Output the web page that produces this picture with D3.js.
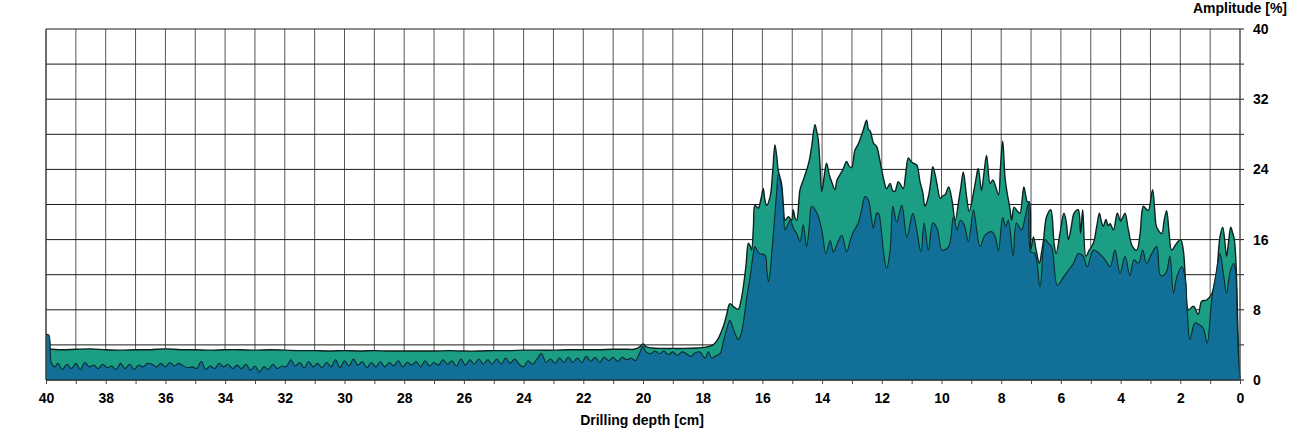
<!DOCTYPE html>
<html>
<head>
<meta charset="utf-8">
<script src="https://cdn.jsdelivr.net/npm/d3@7"></script>
<style>
  html, body { margin: 0; padding: 0; background: #fff; }
  svg { display: block; }
  text { font-family: "Liberation Sans", Arial, sans-serif; font-weight: bold; fill: #000; }
</style>
</head>
<body>
<svg id="chart" width="1292" height="438"></svg>
<script>
// ---- data (drilling depth in cm, amplitude in %) ----
const greenDepth = [40,39.8,39.5,39,38.5,38,37.5,37,36.5,36,35.5,35,34.5,34,33.5,33,32.5,32,31.5,31,30.5,30,29.5,29,28.5,28,27.5,27,26.5,26,25.5,25,24.5,24,23.5,23,22.5,22,21.5,21,20.5,20.3,20.1,20.0,19.9,19.7,19.4,19,18.6,18.2,17.9,17.65,17.5,17.31,17.2,17.09,16.95,16.81,16.72,16.64,16.55,16.47,16.4,16.36,16.3,16.25,16.14,16.05,15.97,15.92,15.86,15.74,15.66,15.58,15.52,15.47,15.36,15.3,15.24,15.13,15.02,14.97,14.9,14.85,14.74,14.63,14.52,14.43,14.35,14.24,14.18,14.13,14.07,14.01,13.93,13.85,13.76,13.68,13.57,13.5,13.4,13.3,13.18,13.1,13.01,12.9,12.8,12.73,12.62,12.51,12.45,12.38,12.28,12.17,12.08,12.0,11.92,11.84,11.72,11.64,11.56,11.45,11.36,11.28,11.2,11.11,11.02,10.94,10.83,10.72,10.63,10.55,10.44,10.36,10.29,10.2,10.15,10.04,9.95,9.88,9.76,9.65,9.54,9.42,9.35,9.27,9.16,9.07,8.93,8.85,8.77,8.66,8.58,8.49,8.37,8.28,8.2,8.09,8.02,7.95,7.87,7.8,7.71,7.65,7.57,7.45,7.37,7.3,7.24,7.12,7.06,7.01,6.92,6.83,6.72,6.65,6.58,6.48,6.34,6.23,6.16,6.03,5.9,5.82,5.75,5.65,5.56,5.42,5.34,5.27,5.16,5.05,4.91,4.8,4.71,4.64,4.58,4.49,4.42,4.35,4.24,4.11,4.0,3.92,3.85,3.74,3.6,3.46,3.35,3.24,3.15,3.07,2.93,2.86,2.79,2.62,2.55,2.46,2.38,2.29,2.12,1.99,1.9,1.82,1.73,1.56,1.4,1.28,1.12,0.95,0.85,0.78,0.67,0.58,0.5,0.45,0.38,0.31,0.25,0.19,0.13,0.08,0.03,0];
const greenValue = [3.5,3.5,3.45,3.5,3.55,3.45,3.4,3.45,3.45,3.55,3.45,3.45,3.4,3.45,3.45,3.4,3.45,3.4,3.35,3.35,3.3,3.35,3.3,3.35,3.3,3.3,3.3,3.3,3.35,3.3,3.3,3.35,3.35,3.4,3.4,3.4,3.45,3.45,3.45,3.5,3.5,3.5,3.8,4.1,3.8,3.65,3.6,3.6,3.6,3.65,3.75,4.0,4.6,6.1,7.4,8.7,8.3,8.05,9.0,10.6,13.0,15.6,15.2,14.8,17.5,19.9,19.6,20.6,21.8,20.6,19.9,20.9,23.5,26.8,25.5,23.9,22.4,20.0,18.2,18.6,18.2,19.4,18.4,18.2,21.7,22.8,23.9,25.0,26.6,29.1,28.3,27.4,24.5,21.5,23.2,24.7,23.4,22.6,21.7,22.8,23.4,24.0,24.9,24.4,24.2,26.2,26.8,27.4,28.5,29.6,28.6,28.3,27.0,26.6,25.3,23.9,22.6,21.8,22.4,21.6,21.5,22.6,22.2,21.8,23.5,25.3,24.9,24.7,24.5,22.6,21.4,19.8,20.9,22.6,24.3,23.2,22.3,20.7,21.0,21.1,22.0,20.5,18.2,20.5,22.0,23.7,20.9,19.2,21.3,22.8,24.1,21.6,23.5,25.6,22.4,22.8,22.2,21.1,24.5,27.2,23.0,21.3,19.6,18.2,19.7,19.2,19.0,20.5,22.0,20.3,20.3,14.8,16.3,14.8,13.3,14.5,16.0,18.6,19.4,15.6,14.4,16.7,19.0,18.0,16.0,17.5,19.0,19.4,16.7,19.4,14.1,14.8,15.6,17.5,19.0,18.0,17.5,18.3,17.6,17.8,17.1,19.0,18.1,18.6,19.0,17.1,15.2,14.8,16.6,19.8,19.5,19.3,21.7,19.5,17.4,16.7,18.0,19.3,17.0,14.8,15.6,16.0,14.8,11.0,8.0,8.4,7.5,9.0,9.1,9.8,11.0,12.2,16.3,17.4,15.5,14.1,15.8,17.4,16.8,16.0,13.0,7.0,1.5,0];

const blueDepth = [40,39.9,39.82,39.7,39.6,39.45,39.3,39.15,39.0,38.85,38.7,38.55,38.4,38.25,38.1,37.95,37.8,37.65,37.5,37.35,37.2,37.05,36.9,36.75,36.6,36.45,36.3,36.15,36.0,35.85,35.7,35.55,35.4,35.25,35.1,34.95,34.8,34.65,34.5,34.35,34.2,34.05,33.9,33.75,33.6,33.45,33.3,33.15,33.0,32.85,32.7,32.55,32.4,32.25,32.1,31.95,31.8,31.65,31.5,31.35,31.2,31.05,30.9,30.75,30.6,30.45,30.3,30.15,30.0,29.85,29.7,29.55,29.4,29.25,29.1,28.95,28.8,28.65,28.5,28.35,28.2,28.05,27.9,27.75,27.6,27.45,27.3,27.15,27.0,26.85,26.7,26.55,26.4,26.25,26.1,25.95,25.8,25.65,25.5,25.35,25.2,25.05,24.9,24.75,24.6,24.45,24.3,24.15,24.0,23.85,23.7,23.55,23.4,23.25,23.1,22.95,22.8,22.65,22.5,22.35,22.2,22.05,21.9,21.75,21.6,21.45,21.3,21.15,21.0,20.85,20.7,20.55,20.4,20.25,20.15,20.0,19.9,19.75,19.6,19.45,19.3,19.15,19.0,18.85,18.7,18.55,18.4,18.25,18.09,17.92,17.81,17.7,17.55,17.42,17.3,17.18,17.09,16.95,16.81,16.72,16.64,16.52,16.41,16.33,16.25,16.15,16.08,15.91,15.85,15.8,15.74,15.69,15.63,15.58,15.52,15.47,15.36,15.3,15.24,15.16,15.07,14.95,14.85,14.74,14.63,14.52,14.43,14.35,14.18,14.01,13.87,13.73,13.62,13.5,13.34,13.18,13.05,12.95,12.79,12.67,12.56,12.45,12.35,12.28,12.17,12.11,12.0,11.95,11.84,11.72,11.63,11.5,11.33,11.16,10.96,10.83,10.69,10.58,10.44,10.29,10.15,9.98,9.76,9.6,9.48,9.37,9.24,9.1,8.93,8.82,8.71,8.54,8.31,8.2,8.09,7.95,7.85,7.76,7.6,7.49,7.32,7.2,7.09,7.01,6.87,6.7,6.53,6.42,6.31,6.12,5.92,5.75,5.58,5.42,5.25,5.12,4.91,4.71,4.52,4.35,4.19,4.02,3.85,3.69,3.55,3.4,3.26,3.13,2.96,2.79,2.66,2.48,2.35,2.23,2.12,1.95,1.84,1.76,1.68,1.51,1.37,1.23,1.1,0.95,0.8,0.67,0.56,0.45,0.34,0.22,0.15,0.1,0.05,0];
const blueValue = [5.2,5.1,1.9,1.5,1.9,1.2,1.8,1.3,1.9,1.2,2.0,1.5,1.7,1.3,1.8,1.4,1.6,1.2,1.9,1.3,1.8,1.2,1.7,1.5,1.9,1.8,1.5,1.9,1.5,2.0,1.6,1.9,1.6,1.4,1.5,1.3,2.1,1.2,1.6,1.3,1.9,1.5,1.8,1.3,1.7,1.3,1.8,1.1,1.6,0.9,1.5,1.2,1.8,1.3,1.6,1.5,2.3,1.6,2.0,1.4,2.1,1.5,1.9,1.4,2.0,1.5,2.3,1.4,2.2,1.6,2.4,1.7,2.1,1.4,2.0,1.5,2.1,1.5,2.0,1.6,2.2,1.5,2.0,1.7,2.1,1.5,2.2,1.6,2.0,1.7,2.3,1.8,2.2,1.6,2.4,1.7,2.3,1.8,2.4,1.8,2.3,1.8,2.4,1.8,2.5,1.9,2.4,1.8,1.5,2.2,1.8,2.4,3.0,2.0,2.4,1.9,2.5,2.0,2.6,2.0,2.5,2.0,2.7,2.1,2.6,2.0,2.6,2.2,2.6,2.1,2.6,2.3,2.5,2.2,2.8,3.8,3.2,3.0,3.3,3.0,3.3,2.9,3.2,2.8,3.2,3.0,2.7,3.1,3.2,2.5,3.2,2.5,2.8,3.0,4.5,6.0,6.8,5.6,4.6,5.2,6.5,9.5,11.8,13.8,15.2,14.6,14.4,14.2,12.5,11.2,12.3,14.4,16.8,19.0,21.5,23.4,22.0,19.5,17.1,17.6,18.2,17.2,16.7,15.8,17.7,15.2,17.5,19.8,19.1,17.1,14.4,15.9,14.6,15.5,16.5,14.6,16.0,16.9,17.9,19.5,20.9,20.5,18.5,17.3,19.0,19.0,16.5,14.8,12.7,14.8,19.8,18.0,19.9,16.3,19.0,17.1,14.6,17.9,14.8,17.9,17.3,14.8,15.2,18.6,17.1,18.2,17.7,15.8,19.4,17.1,15.2,16.5,16.9,16.3,14.8,18.5,17.5,18.2,14.1,17.9,17.1,18.5,20.1,14.6,14.4,10.6,16.0,15.6,15.2,10.8,11.7,12.5,13.3,14.4,14.1,12.9,14.8,14.4,13.7,12.9,14.8,12.2,14.1,11.9,13.7,13.3,14.8,13.3,14.4,15.2,11.9,12.2,14.1,9.9,11.7,12.9,11.7,7.5,4.6,6.5,6.3,5.9,4.2,9.1,12.2,14.4,12.2,9.9,12.2,13.3,12.5,7.5,2.5,0.2];

const xTicks = d3.range(0, 41, 1);      // every cm
const xLabels = d3.range(0, 41, 2);     // labelled every 2 cm
const yGrid = d3.range(0, 41, 4);       // grid every 4 %
const yLabels = [0, 8, 16, 24, 32, 40];
const xTitle = "Drilling depth [cm]";
const yTitle = "Amplitude [%]";

// ---- chart ----
const svg = d3.select("#chart");
const x = d3.scaleLinear().domain([40, 0]).range([46, 1240]);
const y = d3.scaleLinear().domain([0, 40]).range([380, 29]);

const green = greenDepth.map((d, i) => ({ d, v: greenValue[i] }));
const blue = blueDepth.map((d, i) => ({ d, v: blueValue[i] }));

// grid
const grid = svg.append("g");
grid.selectAll("line.v").data(xTicks).join("line")
  .attr("x1", d => x(d)).attr("x2", d => x(d))
  .attr("y1", y(40)).attr("y2", y(0))
  .attr("stroke", "#555").attr("stroke-width", 1);
grid.selectAll("line.h").data(yGrid).join("line")
  .attr("x1", x(40)).attr("x2", x(0) + 4)
  .attr("y1", d => y(d)).attr("y2", d => y(d))
  .attr("stroke", "#1a1a1a").attr("stroke-width", 1);

// areas
const curve = d3.curveCatmullRom.alpha(0.5);
const area = d3.area().curve(curve).x(p => x(p.d)).y0(y(0)).y1(p => y(p.v));
const line = d3.line().curve(curve).x(p => x(p.d)).y(p => y(p.v));

svg.append("path").datum(green).attr("d", area).attr("fill", "#1b9e83");
svg.append("path").datum(green).attr("d", line).attr("fill", "none")
  .attr("stroke", "#0b2220").attr("stroke-width", 1.4).attr("stroke-linejoin", "round");
svg.append("path").datum(blue).attr("d", area).attr("fill", "#126f98");
svg.append("path").datum(blue).attr("d", line).attr("fill", "none")
  .attr("stroke", "#0b2a2c").attr("stroke-width", 1.1).attr("stroke-linejoin", "round");

// frame
svg.append("line").attr("x1", x(40)).attr("x2", x(0)).attr("y1", y(0)).attr("y2", y(0))
  .attr("stroke", "#1a1a1a");
svg.append("line").attr("x1", x(0)).attr("x2", x(0)).attr("y1", y(40)).attr("y2", y(0))
  .attr("stroke", "#555");
svg.append("line").attr("x1", x(40)).attr("x2", x(40)).attr("y1", y(40)).attr("y2", y(0))
  .attr("stroke", "#333");

// x axis
const xAxis = d3.axisBottom(x).tickValues(xTicks).tickSize(4).tickPadding(9)
  .tickFormat(d => (xLabels.includes(d) ? d : ""));
const gx = svg.append("g").attr("transform", `translate(0,${y(0)})`).call(xAxis);
gx.select(".domain").remove();
gx.selectAll(".tick line").attr("stroke", "#444");
gx.selectAll("text").attr("font-size", 14).attr("font-weight", "bold")
  .attr("font-family", "'Liberation Sans', Arial, sans-serif").attr("fill", "#000");

// y axis (right)
const yAxis = d3.axisRight(y).tickValues(yLabels).tickSize(0).tickPadding(13);
const gy = svg.append("g").attr("transform", `translate(${x(0)},0)`).call(yAxis);
gy.select(".domain").remove();
gy.selectAll("text").attr("font-size", 14).attr("font-weight", "bold")
  .attr("font-family", "'Liberation Sans', Arial, sans-serif").attr("fill", "#000");

// titles
svg.append("text").attr("x", 1287).attr("y", 13).attr("text-anchor", "end")
  .attr("font-size", 14).text(yTitle);
svg.append("text").attr("x", 642).attr("y", 425).attr("text-anchor", "middle")
  .attr("font-size", 14).text(xTitle);
</script>
</body>
</html>
